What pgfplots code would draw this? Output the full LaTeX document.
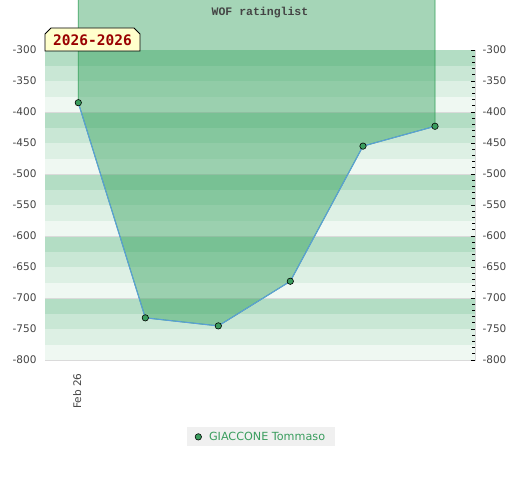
\documentclass[border=0pt]{standalone}
\usepackage{pgfplots}
\pgfplotsset{compat=1.18}
\usepackage{fontspec}
\setmainfont{DejaVu Sans}
\newfontfamily\monofont{DejaVu Sans Mono}
\newfontfamily\titlefont{Liberation Mono}
\definecolor{bandA}{HTML}{B3DDC4}
\definecolor{bandB}{HTML}{C9E7D5}
\definecolor{bandC}{HTML}{DDF0E4}
\definecolor{bandD}{HTML}{EFF8F2}
\definecolor{fillg}{HTML}{289B53}
\definecolor{edgeg}{HTML}{34A05A}
\definecolor{lineb}{HTML}{5B9FD9}
\definecolor{markg}{HTML}{3A9D5E}
\definecolor{gridc}{HTML}{DADADA}
\definecolor{ticktext}{HTML}{444444}
\definecolor{legtext}{HTML}{3A9D5E}
\definecolor{legbg}{HTML}{F0F0F0}
\definecolor{tagbg}{HTML}{FFFFCC}
\definecolor{tagtext}{HTML}{990000}
\definecolor{titlec}{HTML}{444444}
\begin{document}
\begin{tikzpicture}[x=1pt,y=1pt]
\useasboundingbox (0,0) rectangle (520,480);
\begin{axis}[at={(45pt,120pt)}, anchor=south west, scale only axis,
  width=430pt, height=310pt, xmin=0, xmax=430, ymin=-800, ymax=-300,
  clip=false, axis line style={gridc},
  /pgf/number format/assume math mode=true,
  ytick={-800,-750,...,-300}, major tick length=0pt,
  yticklabel style={font=\fontsize{10.5}{12}\selectfont, text=ticktext, xshift=-5pt},
  xtick={33.3}, xticklabels={Feb 26},
  xticklabel style={yshift=-10pt, xshift=-1pt, rotate=90, anchor=east, font=\fontsize{10.5}{12}\selectfont, text=ticktext},
  legend style={at={(0.502,-0.248)}, anchor=center, fill=legbg, draw=none,
    font=\fontsize{11.2}{13}\selectfont, text=legtext, inner xsep=7.5pt, inner ysep=2.5pt},
]
\pgfplotsinvokeforeach{-300,-400,-500,-600,-700}{
  \fill[bandA] (axis cs:0,#1) rectangle (axis cs:430,{#1-25});
  \fill[bandB] (axis cs:0,{#1-25}) rectangle (axis cs:430,{#1-50});
  \fill[bandC] (axis cs:0,{#1-50}) rectangle (axis cs:430,{#1-75});
  \fill[bandD] (axis cs:0,{#1-75}) rectangle (axis cs:430,{#1-100});
}
\pgfplotsinvokeforeach{-400,-500,-600,-700}{
  \draw[gridc, line width=0.6pt] (axis cs:0,#1) -- (axis cs:430,#1);
}
\addplot[fill=fillg, fill opacity=0.42, draw=edgeg, line width=0.8pt, forget plot]
  coordinates {(33.3,-212) (33.3,-385) (100.3,-732) (173.3,-745) (245.3,-673) (318,-455) (390,-423) (390,-212)} -- cycle;
\addplot[lineb, line width=1.1pt, mark=*, mark size=3.2pt,
  mark options={fill=markg, draw=black, line width=0.6pt}, forget plot]
  coordinates {(33.3,-385) (100.3,-732) (173.3,-745) (245.3,-673) (318,-455) (390,-423)};
\addlegendimage{legend image code/.code={\draw[opacity=0] (0pt,0pt) -- (12pt,0pt); \draw[mark=*, mark size=3.2pt, mark options={fill=markg, draw=black, line width=0.6pt}] plot coordinates {(3.5pt,0pt)};}}
\addlegendentry{GIACCONE Tommaso}
\end{axis}
\begin{axis}[at={(45pt,120pt)}, anchor=south west, scale only axis,
  width=430pt, height=310pt, xmin=0, xmax=430, ymin=-800, ymax=-300,
  axis y line*=right, axis x line=none, axis line style={draw=none},
  /pgf/number format/assume math mode=true,
  ytick={-800,-750,...,-300}, minor y tick num=4, ytick align=inside,
  major tick length=4pt, minor tick length=3pt,
  every tick/.style={black, line width=0.6pt},
  yticklabel style={font=\fontsize{10.5}{12}\selectfont, text=ticktext, xshift=4pt},
]
\addplot[draw=none] coordinates {(0,-300)};
\end{axis}
\node[font=\titlefont\bfseries\fontsize{11.5}{13}\selectfont, text=titlec] at (260,467) {WOF ratinglist};
\draw[fill=tagbg, line width=0.8pt] (45,429) -- (45,446) -- (51,452) -- (134,452) -- (140,446) -- (140,429) -- cycle;
\node[font=\monofont\bfseries\fontsize{14.5}{16}\selectfont, text=tagtext] at (92.5,439.5) {2026-2026};
\end{tikzpicture}
\end{document}
